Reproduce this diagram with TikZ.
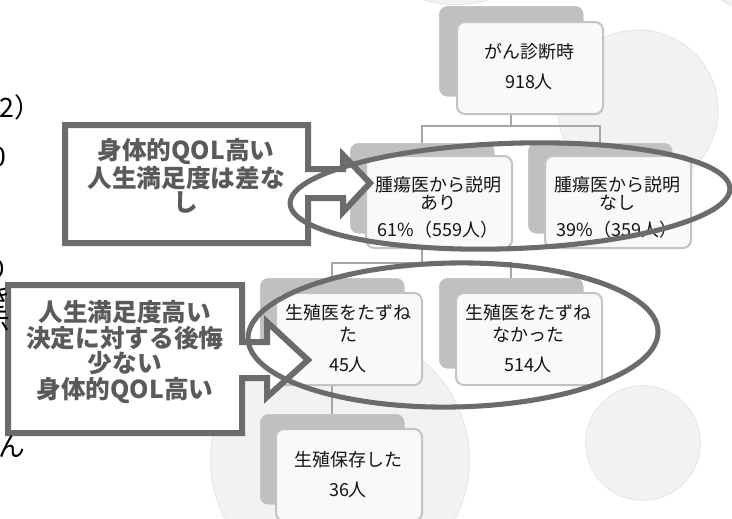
\documentclass[tikz,border=0pt]{standalone}
\usepackage{fontspec}
\setmainfont{Noto Sans CJK JP}
\definecolor{shadowgray}{HTML}{C0C0C0}
\definecolor{cardline}{HTML}{C3C3C3}
\definecolor{cardfill}{HTML}{F9F9F9}
\definecolor{connector}{HTML}{A6A6A6}
\definecolor{callgray}{HTML}{6B6B6B}
\definecolor{calltext}{HTML}{5A5A5A}
\definecolor{bgcircle}{HTML}{F2F2F2}
\definecolor{bgrim}{HTML}{E8E8E8}
\begin{document}
\begin{tikzpicture}[x=0.75pt,y=-0.75pt,
  shadowbox/.style={fill=shadowgray, draw=none, rounded corners=6pt,
    minimum width=108pt, minimum height=67.5pt, inner sep=0pt, anchor=north west},
  cardbox/.style={fill=cardfill, draw=cardline, line width=1.5pt, rounded corners=6pt,
    minimum width=109.5pt, minimum height=69pt, inner sep=0pt, anchor=north west},
  cardtext/.style={font=\fontsize{13.5}{14}\selectfont, text=black!92, inner sep=0pt},
  conn/.style={draw=connector, line width=1.6pt},
  calloutshape/.style={draw=callgray, line width=4.5pt, fill=white, line join=miter},
  callouttext/.style={text=calltext, align=center, inner sep=0pt},
  ring/.style={draw=callgray, line width=3.8pt},
  bgdisc/.style={fill=bgcircle, draw=bgrim, line width=0.8pt},
  frag/.style={font=\fontsize{20}{20}\selectfont, inner sep=0pt, text=black}
]
\useasboundingbox (0,0) rectangle (732,518);
\fill[white] (0,0) rectangle (732,518);

% background discs
\path[bgdisc] (638,110) circle [radius=60pt];
\path[bgdisc] (340,460) circle [radius=97pt];
\path[bgdisc] (643,443) circle [radius=43pt];
\path[bgdisc] (456,-106) circle [radius=83pt];
\path[bgdisc] (748,-40) circle [radius=36pt];

% shadow rectangles (tree nodes)
\node[shadowbox] (s1) at (439,6) {};
\node[shadowbox] (s2) at (350,143) {};
\node[shadowbox] (s3) at (528,143) {};
\node[shadowbox] (s4) at (260,278) {};
\node[shadowbox] (s5) at (439,278) {};
\node[shadowbox] (s6) at (260,414) {};

% connectors
\draw[conn] (s1.south) -- (s1.south |- 0,126) -| (s2.north);
\draw[conn] (s1.south |- 0,126) -| (s3.north);
\draw[conn] (s2.south) -- (s2.south |- 0,263) -| (s4.north);
\draw[conn] (s2.south |- 0,263) -| (s5.north);
\draw[conn] (s4.south) -- (s6.north);

% redraw shadows over connector ends
\node[shadowbox] at (439,6) {};
\node[shadowbox] at (350,143) {};
\node[shadowbox] at (528,143) {};
\node[shadowbox] at (260,278) {};
\node[shadowbox] at (439,278) {};
\node[shadowbox] at (260,414) {};

% front cards
\node[cardbox] (c1) at (456,21) {};
\node[cardbox] (c2) at (365,155) {};
\node[cardbox] (c3) at (544,155) {};
\node[cardbox] (c4) at (275,292) {};
\node[cardbox] (c5) at (455,292) {};
\node[cardbox] (c6) at (275,428) {};

% card texts
\node[cardtext] (t1a) at (529,52) {がん診断時};
\node[cardtext] (t1b) at (529,82) {918人};
\node[cardtext] (t2a) at (438,185) {腫瘍医から説明};
\node[cardtext] (t2b) at (438,203) {あり};
\node[cardtext] (t2c) at (438,230) {61\%（559人）};
\node[cardtext] (t3a) at (617,185) {腫瘍医から説明};
\node[cardtext] (t3b) at (617,203) {なし};
\node[cardtext] (t3c) at (617,230) {39\%（359人）};
\node[cardtext] (t4a) at (348,313) {生殖医をたずね};
\node[cardtext] (t4b) at (348,335) {た};
\node[cardtext] (t4c) at (348,365) {45人};
\node[cardtext] (t5a) at (528,313) {生殖医をたずね};
\node[cardtext] (t5b) at (528,335) {なかった};
\node[cardtext] (t5c) at (528,365) {514人};
\node[cardtext] (t6a) at (348,460) {生殖保存した};
\node[cardtext] (t6b) at (348,490) {36人};

% callouts
\draw[calloutshape] (65,125) -- (308,125) -- (308,169) -- (343,169) -- (343,155)
  -- (370,183) -- (343,212) -- (343,198) -- (308,198) -- (308,243) -- (65,243) -- cycle;
\node[callouttext, font=\bfseries\fontsize{18.5}{18}\selectfont] (k1) at (186,176)
  {身体的QOL高い\\人生満足度は差な\\し};

\draw[calloutshape] (8,285) -- (242,285) -- (242,342) -- (267,342) -- (267,322)
  -- (308,360) -- (267,397) -- (267,378) -- (242,378) -- (242,433) -- (8,433) -- cycle;
\node[callouttext, font=\bfseries\fontsize{18.5}{19.3}\selectfont] (k2) at (125,352)
  {人生満足度高い\\決定に対する後悔\\少ない\\身体的QOL高い};

% rings
\draw[ring, rotate around={2:(510,196)}] (510,196) ellipse [x radius=165pt, y radius=39.5pt];
\draw[ring, rotate around={1:(453,335)}] (453,335) ellipse [x radius=153.75pt, y radius=54pt];

% cut-off slide text at the left edge
\node[frag, anchor=west] (f1) at (-1,107) {2）};
\node[frag, anchor=east] (f2) at (7,157) {0};
\node[frag, anchor=east] (f3) at (9,270) {り};
\node[frag, anchor=east] (f4) at (11,297) {き};
\node[frag, anchor=east] (f5) at (10,322) {示};
\node[frag, anchor=west] (f6) at (-2,447) {ん};
\end{tikzpicture}
\end{document}
